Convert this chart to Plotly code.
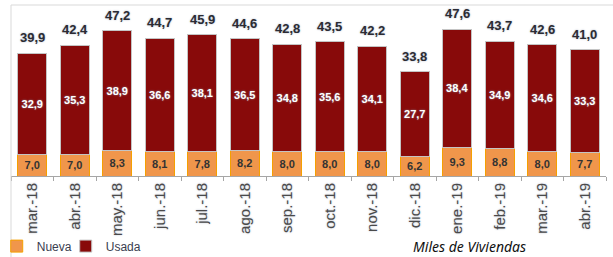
import plotly.graph_objects as go

months = ["mar.-18", "abr.-18", "may.-18", "jun.-18", "jul.-18", "ago.-18", "sep.-18",
          "oct.-18", "nov.-18", "dic.-18", "ene.-19", "feb.-19", "mar.-19", "abr.-19"]
nueva = [7.0, 7.0, 8.3, 8.1, 7.8, 8.2, 8.0, 8.0, 8.0, 6.2, 9.3, 8.8, 8.0, 7.7]
usada = [32.9, 35.3, 38.9, 36.6, 38.1, 36.5, 34.8, 35.6, 34.1, 27.7, 38.4, 34.9, 34.6, 33.3]
totales = [39.9, 42.4, 47.2, 44.7, 45.9, 44.6, 42.8, 43.5, 42.2, 33.8, 47.6, 43.7, 42.6, 41.0]

def fmt(v):
    return f"{v:.1f}".replace(".", ",")

FONT = "Liberation Sans, Arial, sans-serif"

fig = go.Figure()
fig.add_trace(go.Bar(
    x=months, y=nueva, name="Nueva", legendwidth=24,
    marker=dict(color="#F0964B", line=dict(color="#F5A000", width=1)),
    text=[fmt(v) for v in nueva], textposition="inside", insidetextanchor="middle",
    textfont=dict(family=FONT, size=11, color="#333333", weight="bold"),
    hoverinfo="skip",
))
fig.add_trace(go.Bar(
    x=months, y=usada, name="Usada", legendwidth=60,
    marker=dict(color="#880A0A", line=dict(color="#C4C4C4", width=1)),
    text=[fmt(v) for v in usada], textposition="inside", insidetextanchor="middle",
    textfont=dict(family=FONT, size=11, color="#FFFFFF", weight="bold",
                  shadow="0px 0px 2px #8a8a9a"),
    hoverinfo="skip",
))

for m, t in zip(months, totales):
    fig.add_annotation(x=m, y=t, text=fmt(t), showarrow=False, yanchor="bottom",
                       yshift=6, xref="x", yref="y",
                       font=dict(family=FONT, size=13, color="#2B2B33", weight="bold",
                                 shadow="0px 0px 2px #a8b0c0"))

fig.add_annotation(x=0.771, y=-0.41, xref="paper", yref="paper", text="<i>Miles de Viviendas</i>",
                   showarrow=False, xanchor="center", yanchor="middle",
                   font=dict(family="Noto Sans, Liberation Sans, sans-serif", size=14, color="#111111"))

# frame lines
fig.add_shape(type="line", xref="paper", yref="paper", x0=0, x1=1.02, y0=1, y1=1,
              line=dict(color="#D9D9D9", width=1))
fig.add_shape(type="line", xref="paper", yref="paper", x0=0, x1=0, y0=1, y1=-0.48,
              line=dict(color="#D9D9D9", width=1))

fig.update_layout(
    width=613, height=257,
    margin=dict(l=11, r=7, t=5, b=81, autoexpand=False),
    barmode="stack", bargap=0.32,
    paper_bgcolor="white", plot_bgcolor="white",
    showlegend=True,
    legend=dict(orientation="h", x=-0.024, y=-0.41, xanchor="left", yanchor="middle",
                font=dict(family=FONT, size=12, color="#3A4050"),
                itemwidth=30, traceorder="normal",
                bgcolor="rgba(0,0,0,0)"),
    xaxis=dict(type="category", showline=True, linecolor="#A6A6A6", linewidth=1,
               ticks="outside", tickson="boundaries", ticklen=4, tickcolor="#A6A6A6",
               tickangle=-90, showgrid=False, automargin=False,
               tickfont=dict(family=FONT, size=15, color="#4A4A4A",
                             shadow="0px 0px 2px #b0b8c8")),
    yaxis=dict(visible=False, range=[0, 55.5], automargin=False),
    font=dict(family=FONT),
)

fig.write_html("out.html", config={"displayModeBar": False},
               post_script="document.body.style.margin='0';document.body.style.overflow='hidden';")
